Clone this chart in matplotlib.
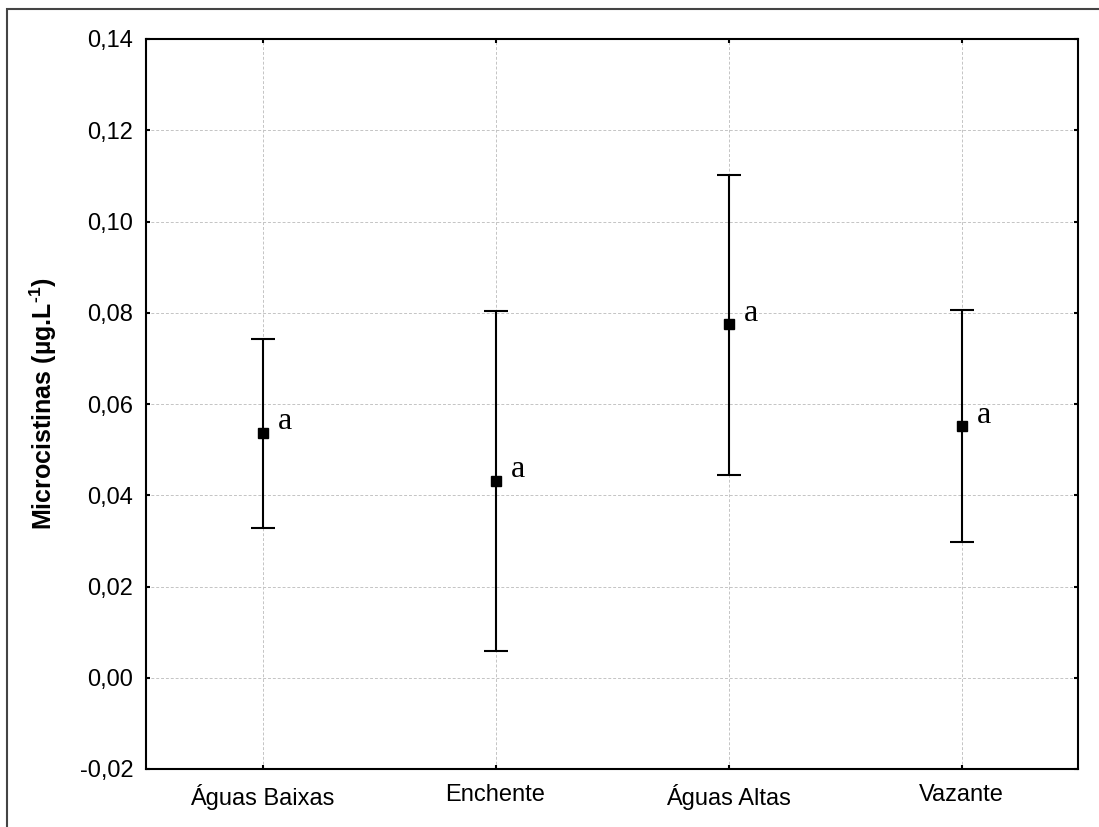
import numpy as np
import matplotlib
matplotlib.use("Agg")
import matplotlib.pyplot as plt
from matplotlib.patches import Rectangle

# dados
categorias = ["Águas Baixas", "Enchente", "Águas Altas", "Vazante"]
media = [0.0537, 0.0432, 0.0775, 0.0551]
superior = [0.0743, 0.0804, 0.1101, 0.0805]
inferior = [0.0329, 0.0059, 0.0444, 0.0298]
letras = ["a", "a", "a", "a"]

yticks = [-0.02, 0.0, 0.02, 0.04, 0.06, 0.08, 0.10, 0.12, 0.14]


def main():
    plt.rcParams['font.family'] = ['Liberation Sans', 'DejaVu Sans']
    plt.rcParams['mathtext.fontset'] = 'custom'
    plt.rcParams['mathtext.rm'] = 'Liberation Sans:bold'
    plt.rcParams['mathtext.bf'] = 'Liberation Sans:bold'

    fig = plt.figure(figsize=(10.99, 8.27), dpi=100)
    ax = fig.add_axes([146 / 1099, 1 - 769 / 827, 932 / 1099, 730 / 827])

    # moldura externa
    fig.patches.append(Rectangle((7 / 1099, -0.1), 1.2, 1 - 9 / 827 + 0.1,
                                 transform=fig.transFigure, fill=False,
                                 edgecolor='#444444', linewidth=1.5))

    x = np.arange(len(categorias))
    m = np.array(media)
    erro = [m - np.array(inferior), np.array(superior) - m]
    ax.errorbar(x, m, yerr=erro, fmt='s', color='black', ecolor='black',
                markersize=6.5, elinewidth=1.5, capsize=8.5, capthick=1.5,
                zorder=3)

    for xi, yi, t in zip(x, media, letras):
        ax.annotate(t, (xi, yi), xytext=(11, 2.5), textcoords='offset points',
                    ha='left', va='baseline', fontsize=23,
                    family=['Liberation Serif', 'DejaVu Serif'])

    ax.set_xlim(-0.5, 3.5)
    ax.set_ylim(-0.02, 0.14)
    ax.set_xticks(x)
    ax.set_xticklabels(categorias)
    ax.set_yticks(yticks)
    ax.set_yticklabels([('%.2f' % v).replace('.', ',') for v in yticks])

    ax.grid(True, color='#c4c4c4', linestyle=(0, (3, 2)), linewidth=0.7)
    ax.set_axisbelow(True)

    ax.tick_params(direction='in', length=3, width=1.5, labelsize=17,
                   top=True, right=True, pad=9)
    ax.tick_params(axis='x', pad=11)
    for s in ax.spines.values():
        s.set_linewidth(1.5)

    ax.set_ylabel(r'Microcistinas (µg.L$^{\text{-1}}$)', fontsize=18,
                  fontweight='bold', labelpad=15)

    fig.savefig('out.png', dpi=100)
    plt.close()


if __name__ == '__main__':
    main()
